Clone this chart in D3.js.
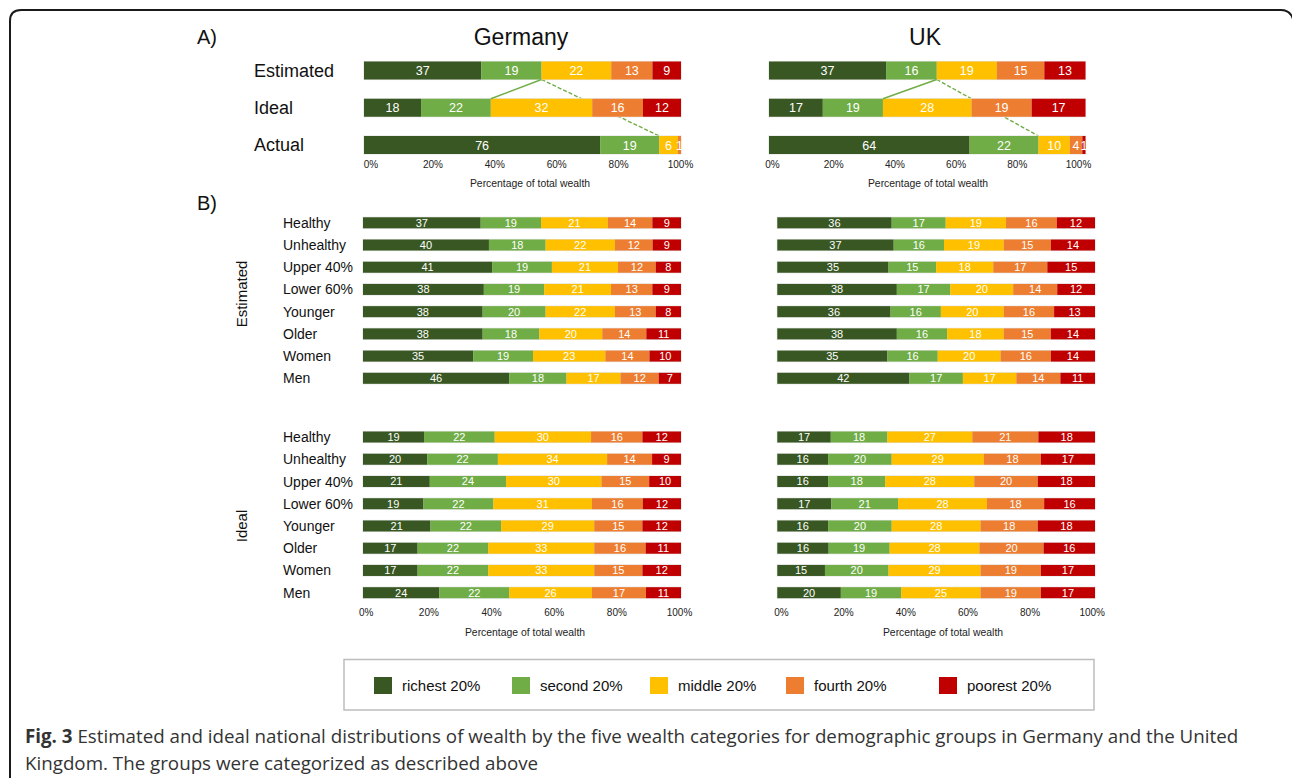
<!DOCTYPE html>
<html>
<head>
<meta charset="utf-8">
<script src="https://cdn.jsdelivr.net/npm/d3@7"></script>
<style>
  body { margin: 0; background: #fff; }
  svg { display: block; }
</style>
</head>
<body>
<div id="fig"></div>
<script>
// Wealth distribution figure: panel A (estimated / ideal / actual)
// and panel B (by demographic group), Germany vs UK

const categories = ["richest 20%", "second 20%", "middle 20%", "fourth 20%", "poorest 20%"];
const colors = ["#385723", "#70ad47", "#ffc000", "#ed7d31", "#c00000"];

const aRows = ["Estimated", "Ideal", "Actual"];
const aGermany = [[37, 19, 22, 13, 9], [18, 22, 32, 16, 12], [76, 19, 6, 1, 0]];
const aUK = [[37, 16, 19, 15, 13], [17, 19, 28, 19, 17], [64, 22, 10, 4, 1]];

const groups = ["Healthy", "Unhealthy", "Upper 40%", "Lower 60%", "Younger", "Older", "Women", "Men"];
const estGermany = [
  [37, 19, 21, 14, 9], [40, 18, 22, 12, 9], [41, 19, 21, 12, 8], [38, 19, 21, 13, 9],
  [38, 20, 22, 13, 8], [38, 18, 20, 14, 11], [35, 19, 23, 14, 10], [46, 18, 17, 12, 7]];
const estUK = [
  [36, 17, 19, 16, 12], [37, 16, 19, 15, 14], [35, 15, 18, 17, 15], [38, 17, 20, 14, 12],
  [36, 16, 20, 16, 13], [38, 16, 18, 15, 14], [35, 16, 20, 16, 14], [42, 17, 17, 14, 11]];
const idealGermany = [
  [19, 22, 30, 16, 12], [20, 22, 34, 14, 9], [21, 24, 30, 15, 10], [19, 22, 31, 16, 12],
  [21, 22, 29, 15, 12], [17, 22, 33, 16, 11], [17, 22, 33, 15, 12], [24, 22, 26, 17, 11]];
const idealUK = [
  [17, 18, 27, 21, 18], [16, 20, 29, 18, 17], [16, 18, 28, 20, 18], [17, 21, 28, 18, 16],
  [16, 20, 28, 18, 18], [16, 19, 28, 20, 16], [15, 20, 29, 19, 17], [20, 19, 25, 19, 17]];

const tickValues = [0, 20, 40, 60, 80, 100];

const W = 1292, H = 778;
const font = "'Liberation Sans', Arial, sans-serif";

const svg = d3.select("#fig")
  .append("svg")
    .attr("width", W)
    .attr("height", H);

// outer frame (rounded top corners)
svg.append("path")
  .attr("d", "M10,778 L10,21 Q10,10 21,10 L1281,10 Q1290,10 1293,19")
  .attr("fill", "none")
  .attr("stroke", "#1a1a1a")
  .attr("stroke-width", 2);

const color = d3.scaleOrdinal().domain(categories).range(colors);
const stack = d3.stack().keys(categories).offset(d3.stackOffsetExpand);

function toTable(rows, vals) {
  return rows.map((r, i) => {
    const o = {row: r};
    categories.forEach((c, j) => o[c] = vals[i][j]);
    return o;
  });
}

// draw one block of stacked bars, returns the stacked series
function drawBars(table, x, y, h, fs) {
  const series = stack(table);
  const g = svg.append("g");

  // faint outline behind each bar
  g.selectAll("rect.bg")
    .data(table)
    .join("rect")
      .attr("class", "bg")
      .attr("x", x(0) - 0.6)
      .attr("y", d => y(d.row) - h / 2 - 0.6)
      .attr("width", x(1) - x(0) + 1.2)
      .attr("height", h + 1.2)
      .attr("fill", "#e4e4e4");

  g.selectAll("g.s")
    .data(series)
    .join("g")
      .attr("class", "s")
      .attr("fill", d => color(d.key))
      .selectAll("rect")
      .data(d => d)
      .join("rect")
        .attr("x", d => x(d[0]))
        .attr("y", d => y(d.data.row) - h / 2)
        .attr("width", d => x(d[1]) - x(d[0]))
        .attr("height", h);

  g.selectAll("g.l")
    .data(series)
    .join("g")
      .attr("class", "l")
      .selectAll("text")
      .data(d => d.filter(p => p.data[d.key] > 0).map(p => ({p: p, v: p.data[d.key]})))
      .join("text")
        .attr("x", d => x((d.p[0] + d.p[1]) / 2))
        .attr("y", d => y(d.p.data.row))
        .attr("dy", "0.36em")
        .attr("text-anchor", "middle")
        .style("font-family", font)
        .style("font-size", fs + "px")
        .style("fill", "#fff")
        .text(d => d.v);

  return series;
}

function drawAxis(tx, yPos, titleX, titleY) {
  const ax = svg.append("g")
    .attr("transform", `translate(0,${yPos})`)
    .call(d3.axisBottom(tx).tickValues(tickValues).tickSize(0).tickFormat(d => d + "%"));
  ax.select(".domain").remove();
  ax.selectAll("text")
    .attr("dy", "0")
    .attr("y", 0)
    .style("font-family", font)
    .style("font-size", "10px")
    .style("fill", "#222");
  svg.append("text")
    .attr("x", titleX)
    .attr("y", titleY)
    .attr("text-anchor", "middle")
    .style("font-family", font)
    .style("font-size", "10.4px")
    .style("fill", "#222")
    .text("Percentage of total wealth");
}

// ---------------- Panel A ----------------
const yA = d3.scalePoint().domain(aRows).range([70.5, 145]);
const hA = 18;

const panelsA = [
  {name: "Germany", vals: aGermany, x0: 364, x1: 681, ticks: [370.5, 680], titleX: 521, axisX: 530},
  {name: "UK", vals: aUK, x0: 769, x1: 1085.5, ticks: [772, 1078], titleX: 925, axisX: 928}
];

panelsA.forEach(p => {
  const x = d3.scaleLinear().domain([0, 1]).range([p.x0, p.x1]);
  const table = toTable(aRows, p.vals);
  const series = stack(table);

  // connector lines from the "second 20%" cumulative boundary
  const s2 = series[1];
  const est = s2[0][1], ideal = s2[1][1], actual = s2[2][1];
  svg.append("line")
    .attr("x1", x(est)).attr("y1", yA("Estimated") + hA / 2)
    .attr("x2", x(actual)).attr("y2", yA("Actual") - hA / 2)
    .attr("stroke", "#70ad47")
    .attr("stroke-width", 1.4)
    .attr("stroke-dasharray", "4,2");

  drawBars(table, x, yA, hA, 12.5);

  svg.append("line")
    .attr("x1", x(est)).attr("y1", yA("Estimated") + hA / 2)
    .attr("x2", x(ideal)).attr("y2", yA("Ideal") - hA / 2)
    .attr("stroke", "#70ad47")
    .attr("stroke-width", 1.4);

  svg.append("text")
    .attr("x", p.titleX)
    .attr("y", 45)
    .attr("text-anchor", "middle")
    .style("font-family", font)
    .style("font-size", "23px")
    .style("fill", "#111")
    .text(p.name);

  const tx = d3.scaleLinear().domain([0, 100]).range(p.ticks);
  drawAxis(tx, 167.5, p.axisX, 186.5);
});

// row labels for panel A
svg.append("g")
  .selectAll("text")
  .data(aRows)
  .join("text")
    .attr("x", 254)
    .attr("y", d => yA(d))
    .attr("dy", "0.36em")
    .style("font-family", font)
    .style("font-size", "18px")
    .style("fill", "#111")
    .text(d => d);

svg.append("text")
  .attr("x", 197).attr("y", 44)
  .style("font-family", font).style("font-size", "20px").style("fill", "#111")
  .text("A)");

svg.append("text")
  .attr("x", 197).attr("y", 210)
  .style("font-family", font).style("font-size", "20px").style("fill", "#111")
  .text("B)");

// ---------------- Panel B ----------------
const hB = 11;
const yEst = d3.scalePoint().domain(groups).range([222.8, 378.3]);
const yIdeal = d3.scalePoint().domain(groups).range([437, 592.7]);

const panelsB = [
  {est: estGermany, ideal: idealGermany, x0: 363, x1: 681, ticks: [365.7, 679], axisX: 525},
  {est: estUK, ideal: idealUK, x0: 777.3, x1: 1095, ticks: [781, 1091.7], axisX: 943}
];

panelsB.forEach(p => {
  const x = d3.scaleLinear().domain([0, 1]).range([p.x0, p.x1]);
  drawBars(toTable(groups, p.est), x, yEst, hB, 11);
  drawBars(toTable(groups, p.ideal), x, yIdeal, hB, 11);
  const tx = d3.scaleLinear().domain([0, 100]).range(p.ticks);
  drawAxis(tx, 616, p.axisX, 635.5);
});

[yEst, yIdeal].forEach(y => {
  svg.append("g")
    .selectAll("text")
    .data(groups)
    .join("text")
      .attr("x", 283)
      .attr("y", d => y(d))
      .attr("dy", "0.36em")
      .style("font-family", font)
      .style("font-size", "14px")
      .style("fill", "#111")
      .text(d => d);
});

[["Estimated", 294], ["Ideal", 526]].forEach(([t, cy]) => {
  svg.append("text")
    .attr("transform", `translate(247,${cy}) rotate(-90)`)
    .attr("text-anchor", "middle")
    .style("font-family", font)
    .style("font-size", "15px")
    .style("fill", "#111")
    .text(t);
});

// ---------------- Legend ----------------
svg.append("rect")
  .attr("x", 344).attr("y", 659.5)
  .attr("width", 750).attr("height", 50.5)
  .attr("fill", "#fff")
  .attr("stroke", "#bdbdbd")
  .attr("stroke-width", 1.5);

const legendX = [374, 512, 650, 786, 939];
const legend = svg.append("g")
  .selectAll("g")
  .data(categories)
  .join("g")
    .attr("transform", (d, i) => `translate(${legendX[i]},677)`);
legend.append("rect")
  .attr("width", 18).attr("height", 17)
  .attr("fill", d => color(d));
legend.append("text")
  .attr("x", 28).attr("y", 8.5)
  .attr("dy", "0.36em")
  .style("font-family", font)
  .style("font-size", "15px")
  .style("fill", "#111")
  .text(d => d);

// ---------------- Caption ----------------
const capFont = "'Open Sans', 'Noto Sans', sans-serif";
const cap = svg.append("text")
  .attr("x", 25).attr("y", 743)
  .style("font-family", capFont)
  .style("font-size", "18.75px")
  .style("fill", "#333");
cap.append("tspan").style("font-weight", "bold").text("Fig. 3");
cap.append("tspan").text(" Estimated and ideal national distributions of wealth by the five wealth categories for demographic groups in Germany and the United");

svg.append("text")
  .attr("x", 25).attr("y", 770)
  .style("font-family", capFont)
  .style("font-size", "18.75px")
  .style("fill", "#333")
  .text("Kingdom. The groups were categorized as described above");
</script>
</body>
</html>
